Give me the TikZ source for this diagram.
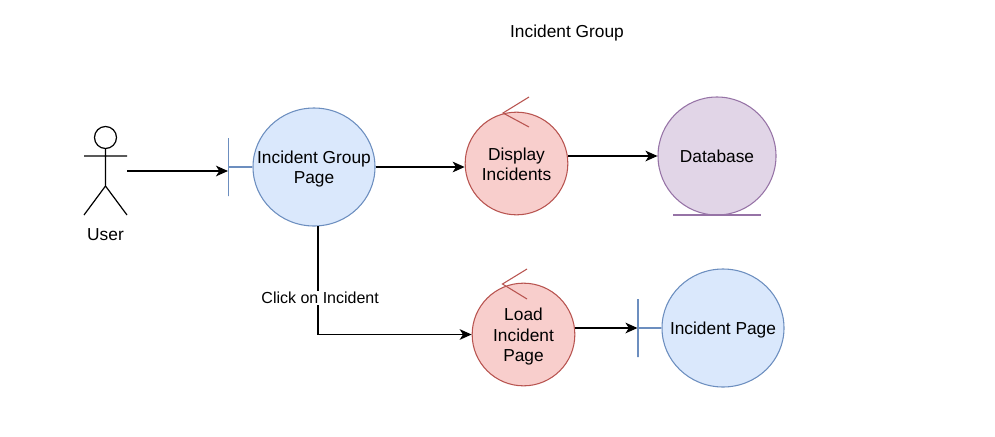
\documentclass[tikz,border=0pt]{standalone}
\usepackage{fontspec}
\setmainfont{Liberation Sans}
\usetikzlibrary{arrows.meta,shapes.geometric}
\definecolor{bluefill}{HTML}{DAE8FC}
\definecolor{blueline}{HTML}{6C8EBF}
\definecolor{redfill}{HTML}{F8CECC}
\definecolor{redline}{HTML}{B85450}
\definecolor{purplefill}{HTML}{E1D5E7}
\definecolor{purpleline}{HTML}{9673A6}
\begin{document}
\begin{tikzpicture}[
  x=0.75pt, y=-0.75pt,
  every node/.style={font=\fontsize{13}{15.4}\selectfont, align=center},
  ball/.style={ellipse, draw, inner sep=0pt, line width=0.8pt},
  boundary/.style={ball, draw=blueline, fill=bluefill, minimum width=91.5pt, minimum height=88.5pt},
  control/.style={ball, draw=redline, fill=redfill, minimum size=77pt},
  entity/.style={ball, draw=purpleline, fill=purplefill, minimum size=88.5pt},
  bar/.style={draw=blueline, line width=0.8pt, inner sep=0pt, minimum width=0pt, minimum height=43.5pt},
  stem/.style={draw=blueline, line width=0.8pt},
  tick/.style={draw=redline, line width=0.8pt},
  under/.style={draw=purpleline, line width=1pt},
  stick/.style={draw, line width=0.9pt},
  flow/.style={draw, line width=1pt, -{Stealth[length=9pt, width=8pt, inset=2.5pt]}}
]
  \useasboundingbox (0,0) rectangle (995,436);
  \node (title) at (567,33) {Incident Group};

  % actor
  \node[circle, draw, line width=0.9pt, minimum size=16.5pt, inner sep=0pt] (head) at (105.5,137.5) {};
  \coordinate (neck) at (105.5,186);
  \coordinate (armL) at (84,156);
  \coordinate (armR) at (127,156);
  \coordinate (footL) at (84,215);
  \coordinate (footR) at (127,215);
  \coordinate (userout) at (127,171);
  \draw[stick] (head) -- (neck) (armL) -- (armR) (footL) -- (neck) -- (footR);
  \node (user) at (105.5,235) {User};

  % circles
  \node[boundary, label={[yshift=-1.5pt]center:{Incident Group\\Page}}] (igp) at (314,167) {};
  \node[bar] (igpbar) at (228.5,167) {};
  \node[control, label={[yshift=-0.75pt]center:{Display\\Incidents}}] (display) at (516.5,163.5) {};
  \node[entity] (database) at (717,156) {Database};
  \node[control, label={[yshift=-1.75pt]center:{Load\\Incident\\Page}}] (load) at (523.5,334.5) {};
  \node[boundary, label={[yshift=-1.5pt]center:{Incident Page}}] (incident) at (723,328) {};
  \node[bar] (incidentbar) at (638,328) {};

  % marks on the circles
  \draw[stem] (igpbar) -- (igp);
  \draw[stem] (incidentbar) -- (incident);
  \coordinate (displaytip) at (503,113);
  \draw[tick] (529,97) -- (displaytip) -- (529,127);
  \coordinate (loadtip) at (502.5,284);
  \draw[tick] (527,269) -- (loadtip) -- (527,299);
  \coordinate (dbL) at (673,215);
  \coordinate (dbR) at (761,215);
  \draw[under] (dbL) -- (dbR);

  % flows
  \draw[flow] (userout) -- (igpbar.west |- userout);
  \draw[flow] (igp.east) -- (display.west |- igp.east);
  \draw[flow] (display.east |- database) -- (database.west);
  \draw[flow] (igp.274) |- (load.west)
    node[pos=0.33, xshift=1.5pt, fill=white, inner sep=1pt, font=\fontsize{12}{14}\selectfont] (click) {Click on Incident};
  \draw[flow] (load.east |- incidentbar) -- (incidentbar.west);
\end{tikzpicture}
\end{document}
